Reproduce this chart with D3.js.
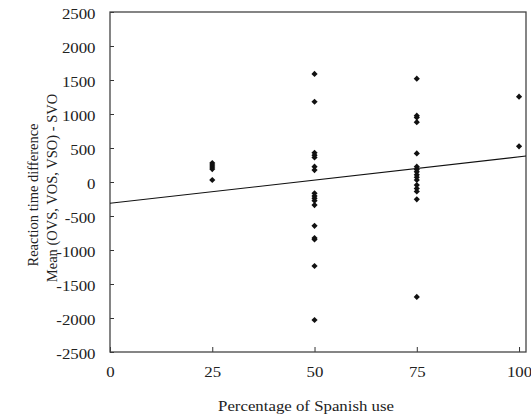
<!DOCTYPE html>
<html>
<head>
<meta charset="utf-8">
<script src="https://cdn.jsdelivr.net/npm/d3@7"></script>
<style>
  body { margin: 0; background: #fff; }
  svg { display: block; font-family: "Liberation Serif", "DejaVu Serif", serif; }
</style>
</head>
<body>
<svg id="chart"></svg>
<script>
// Data
const spanishUse = [25, 25, 25, 25, 25,
  50, 50, 50, 50, 50, 50, 50, 50, 50, 50, 50, 50, 50, 50, 50, 50, 50,
  75, 75, 75, 75, 75, 75, 75, 75, 75, 75, 75, 75, 75, 75, 75, 75,
  100, 100];
const rtDiff = [280, 250, 220, 190, 30,
  1590, 1180, 430, 395, 360, 225, 175, -165, -205, -240, -275, -340, -645, -825, -845, -1235, -2030,
  1520, 975, 950, 880, 420, 225, 185, 150, 105, 70, 30, -45, -95, -140, -255, -1690,
  1255, 525];
const xTicks = [0, 25, 50, 75, 100];
const yTicks = [-2500, -2000, -1500, -1000, -500, 0, 500, 1000, 1500, 2000, 2500];
// fitted line: intercept and slope
const fitIntercept = -313;
const fitSlope = 6.83;

const width = 531;
const height = 417;
const marginTop = 12;
const marginRight = 5;
const marginBottom = 65;
const marginLeft = 110;

// the original picture is a bit stretched sideways, so horizontal text is widened
const sx = 1.16;
const fontSize = 14.5;
const textColor = "#222";

const xMax = 101.7;
const x = d3.scaleLinear([0, xMax], [marginLeft, width - marginRight]);
const y = d3.scaleLinear([-2500, 2500], [height - marginBottom, marginTop]);

const svg = d3.select("#chart")
    .attr("width", width)
    .attr("height", height)
    .attr("viewBox", [0, 0, width, height]);

const styleAxis = g => {
    g.attr("font-family", "Liberation Serif, DejaVu Serif, serif").attr("font-size", fontSize);
    g.select(".domain").remove();
    g.selectAll(".tick line").attr("stroke", "#333");
    g.selectAll("text").attr("fill", textColor);
};

// Bottom axis, ticks pointing inward
svg.append("g")
    .attr("transform", `translate(0,${height - marginBottom})`)
    .call(d3.axisBottom(x).tickValues(xTicks).tickFormat(d => String(d)).tickSize(-5).tickPadding(15).tickSizeOuter(0))
    .call(styleAxis)
    .call(g => g.selectAll(".tick text").attr("transform", `scale(${sx},1)`));

// Left axis, ticks pointing inward
svg.append("g")
    .attr("transform", `translate(${marginLeft},0)`)
    .call(d3.axisLeft(y).tickValues(yTicks).tickFormat(d => String(d)).tickSize(-4).tickPadding(15).tickSizeOuter(0))
    .call(styleAxis)
    .call(g => g.selectAll(".tick text")
        .attr("x", -14.5 / sx)
        .attr("dy", "0.42em")
        .attr("transform", `scale(${sx},1)`));

// Frame
svg.append("rect")
    .attr("x", marginLeft)
    .attr("y", marginTop)
    .attr("width", width - marginLeft - marginRight)
    .attr("height", height - marginTop - marginBottom)
    .attr("fill", "none")
    .attr("stroke", "#444")
    .attr("stroke-width", 1.3);

// Fitted line
svg.append("line")
    .attr("x1", x(0))
    .attr("y1", y(fitIntercept))
    .attr("x2", x(xMax))
    .attr("y2", y(fitIntercept + fitSlope * xMax))
    .attr("stroke", "#111")
    .attr("stroke-width", 1.1);

// Diamond markers (rotated squares)
svg.append("g")
    .selectAll("path")
    .data(d3.range(spanishUse.length))
    .join("path")
    .attr("transform", i => `translate(${x(spanishUse[i])},${y(rtDiff[i])}) rotate(45)`)
    .attr("d", d3.symbol(d3.symbolSquare, 19))
    .attr("fill", "#111");

// Axis titles
svg.append("text")
    .attr("transform", `translate(306,411) scale(${sx},1)`)
    .attr("text-anchor", "middle")
    .attr("font-size", fontSize)
    .attr("fill", textColor)
    .text("Percentage of Spanish use");

svg.append("text")
    .attr("transform", "translate(38,195) rotate(-90)")
    .attr("text-anchor", "middle")
    .attr("font-size", fontSize)
    .attr("fill", textColor)
    .text("Reaction time difference");

svg.append("text")
    .attr("transform", "translate(57,188) rotate(-90)")
    .attr("text-anchor", "middle")
    .attr("font-size", fontSize)
    .attr("fill", textColor)
    .text("Mean (OVS, VOS, VSO) - SVO");
</script>
</body>
</html>
